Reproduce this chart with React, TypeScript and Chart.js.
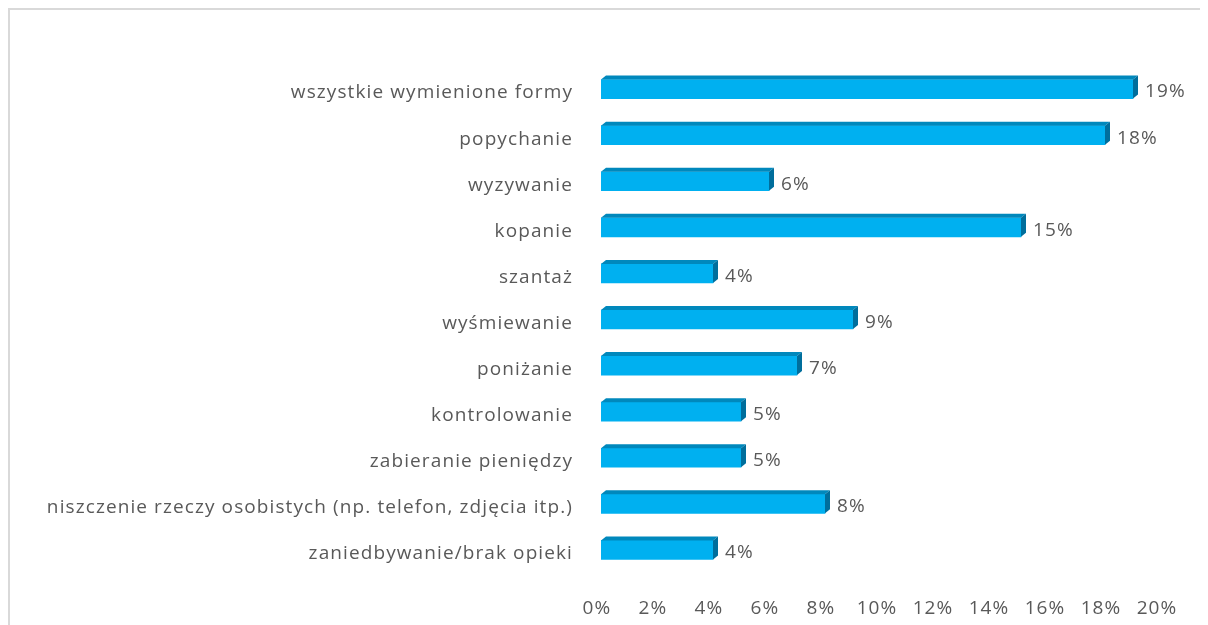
import React, { useEffect, useRef } from "react";
import { Chart, registerables } from "chart.js";

Chart.register(...registerables);

const categories: string[] = [
  "wszystkie wymienione formy",
  "popychanie",
  "wyzywanie",
  "kopanie",
  "szantaż",
  "wyśmiewanie",
  "poniżanie",
  "kontrolowanie",
  "zabieranie pieniędzy",
  "niszczenie rzeczy osobistych (np. telefon, zdjęcia itp.)",
  "zaniedbywanie/brak opieki",
];
const values: number[] = [19, 18, 6, 15, 4, 9, 7, 5, 5, 8, 4];
const xTicks: number[] = [0, 2, 4, 6, 8, 10, 12, 14, 16, 18, 20];

const FONT = "'Open Sans', sans-serif";
const TEXT = "#595959";
const FRONT = "#00B0F0";
const TOP = "#0088BC";
const SIDE = "#006E9C";
const DX = 5;
const DY = 4;
const SPACING = "1.1px";

const spacingPlugin = {
  id: "spacing",
  beforeDraw(chart: any) {
    chart.ctx.letterSpacing = SPACING;
  },
};

const bar3d = {
  id: "bar3d",
  afterDatasetsDraw(chart: any) {
    const ctx = chart.ctx;
    const meta = chart.getDatasetMeta(0);
    ctx.save();
    ctx.letterSpacing = SPACING;
    meta.data.forEach((el: any, i: number) => {
      const { x, y, base, height } = el.getProps(["x", "y", "base", "height"], true);
      const top = y - height / 2;
      const bottom = y + height / 2;
      ctx.fillStyle = TOP;
      ctx.beginPath();
      ctx.moveTo(base, top);
      ctx.lineTo(base + DX, top - DY);
      ctx.lineTo(x + DX, top - DY);
      ctx.lineTo(x, top);
      ctx.closePath();
      ctx.fill();
      ctx.fillStyle = SIDE;
      ctx.beginPath();
      ctx.moveTo(x, top);
      ctx.lineTo(x + DX, top - DY);
      ctx.lineTo(x + DX, bottom - DY);
      ctx.lineTo(x, bottom);
      ctx.closePath();
      ctx.fill();
      ctx.fillStyle = TEXT;
      ctx.font = "19px " + FONT;
      ctx.textAlign = "left";
      ctx.textBaseline = "middle";
      ctx.fillText(values[i] + "%", x + DX + 7, y + 3);
    });
    ctx.restore();
  },
};

export default function App() {
  const ref = useRef<HTMLCanvasElement>(null);
  useEffect(() => {
    if (!ref.current) return;
    const chart = new Chart(ref.current, {
      type: "bar",
      data: {
        labels: categories,
        datasets: [
          {
            data: values,
            backgroundColor: FRONT,
            barThickness: 19,
            borderWidth: 0,
          },
        ],
      },
      plugins: [spacingPlugin, bar3d],
      options: {
        indexAxis: "y",
        animation: false,
        responsive: false,
        layout: { padding: { top: 56, right: 47, left: 0, bottom: 0 } },
        plugins: { legend: { display: false }, tooltip: { enabled: false } },
        scales: {
          x: {
            min: 0,
            max: 20,
            afterBuildTicks: (axis: any) => {
              axis.ticks = xTicks.map((v) => ({ value: v }));
            },
            grid: { display: false, drawTicks: false },
            border: { display: false },
            ticks: {
              color: TEXT,
              font: { family: FONT, size: 19 },
              padding: 24,
              labelOffset: -4,
              callback: (v: any) => v + "%",
              maxRotation: 0,
            },
            afterFit: (axis: any) => {
              axis.height = 52;
            },
          },
          y: {
            grid: { display: false, drawTicks: false },
            border: { display: false },
            ticks: {
              color: TEXT,
              font: { family: FONT, size: 19 },
              padding: 28,
              labelOffset: 4,
              autoSkip: false,
            },
            afterFit: (axis: any) => {
              axis.width = 591;
            },
          },
        },
      },
    });
    return () => chart.destroy();
  }, []);
  return (
    <div
      style={{
        borderLeft: "2px solid #D9D9D9",
        borderTop: "2px solid #D9D9D9",
        width: 1198,
        height: 615,
      }}
    >
      <canvas ref={ref} width={1198} height={615} style={{ display: "block" }} />
    </div>
  );
}
